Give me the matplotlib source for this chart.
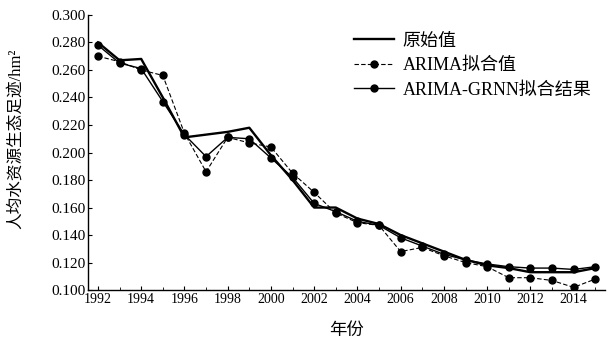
import matplotlib
matplotlib.use("Agg")
import matplotlib.pyplot as plt
from matplotlib.ticker import FormatStrFormatter, MultipleLocator

# --------- Datos ---------

years = list(range(1992, 2016))

original = [0.280, 0.267, 0.268, 0.240, 0.211, 0.213, 0.215, 0.218,
            0.198, 0.180, 0.160, 0.160, 0.152, 0.148, 0.140, 0.134,
            0.128, 0.122, 0.118, 0.116, 0.113, 0.113, 0.113, 0.116]

arima = [0.270, 0.266, 0.260, 0.256, 0.214, 0.186, 0.211, 0.207,
         0.204, 0.185, 0.171, 0.156, 0.149, 0.147, 0.128, 0.131,
         0.125, 0.120, 0.117, 0.109, 0.109, 0.107, 0.102, 0.108]

arima_grnn = [0.278, 0.265, 0.261, 0.237, 0.213, 0.197, 0.211, 0.210,
              0.196, 0.182, 0.163, 0.157, 0.150, 0.147, 0.138, 0.132,
              0.126, 0.122, 0.119, 0.117, 0.116, 0.116, 0.115, 0.117]

labels = ["原始值", "ARIMA拟合值", "ARIMA-GRNN拟合结果"]
xtick_years = list(range(1992, 2015, 2))

# --------- Gráfica ---------

plt.rcParams["font.family"] = ["Liberation Serif", "Noto Sans CJK SC", "DejaVu Sans"]
plt.rcParams["axes.unicode_minus"] = False

fig = plt.figure(figsize=(6.07, 3.47), dpi=100)
ax = fig.add_axes([0.145, 0.164, 0.852, 0.793])

ax.plot(years, original, color="black", lw=1.7, label=labels[0])
ax.plot(years, arima, color="black", lw=0.8, ls=(0, (4, 2)), marker="o",
        ms=5, label=labels[1])
ax.plot(years, arima_grnn, color="black", lw=1.0, marker="o", ms=5,
        label=labels[2])

ax.set_xlim(1991.54, 2015.46)
ax.set_ylim(0.100, 0.300)
ax.set_xticks(xtick_years)
ax.xaxis.set_minor_locator(MultipleLocator(1))
ax.yaxis.set_major_locator(MultipleLocator(0.02))
ax.yaxis.set_major_formatter(FormatStrFormatter("%.3f"))
ax.tick_params(axis="x", direction="in", labelsize=10, length=3, width=0.8, pad=2)
ax.tick_params(axis="y", direction="in", labelsize=11, length=3, width=0.8, pad=2)
ax.tick_params(axis="x", which="minor", direction="in", length=2)

for side in ("top", "right"):
    ax.spines[side].set_visible(False)
ax.spines["left"].set_linewidth(1.0)
ax.spines["bottom"].set_linewidth(1.0)

ax.set_xlabel("年份", fontsize=12.5)
ax.xaxis.set_label_coords(0.5, -0.12)
ax.set_ylabel("人均水资源生态足迹/hm²", fontsize=12)
ax.yaxis.set_label_coords(-0.124, 0.55)

ax.legend(loc="upper right", bbox_to_anchor=(1.005, 0.995), frameon=False,
          fontsize=13, handlelength=2.2, handletextpad=0.5, labelspacing=0.42)

fig.savefig("out.png", dpi=100)
